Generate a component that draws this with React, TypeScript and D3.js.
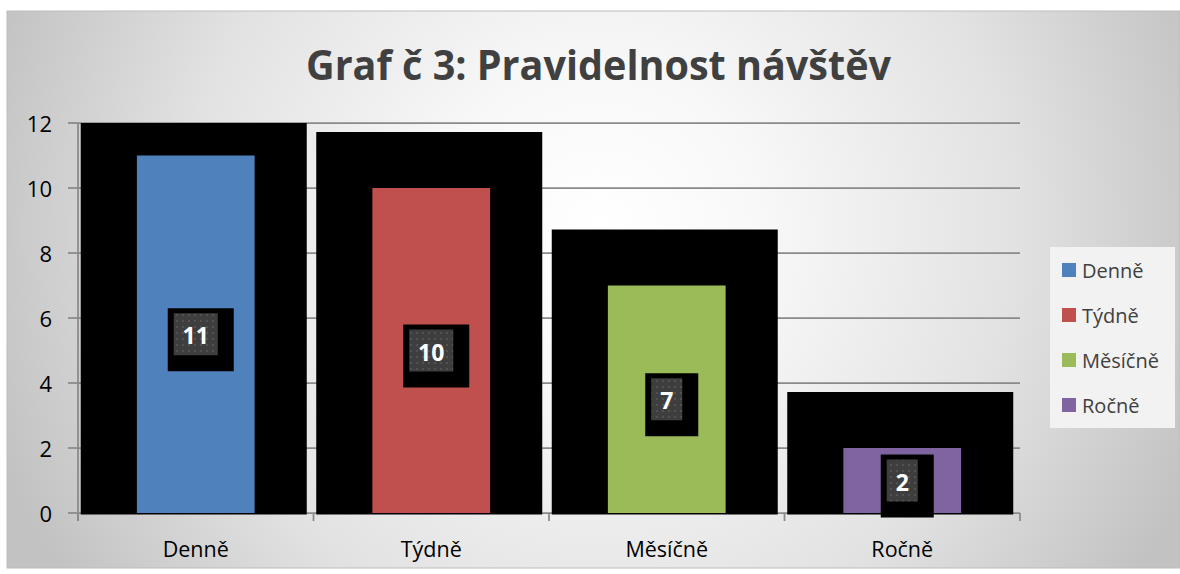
import React from "react";
import * as d3 from "d3";

const categories = ["Denně", "Týdně", "Měsíčně", "Ročně"];
const values = [11, 10, 7, 2];
const colors = ["#4f81bd", "#c0504d", "#9bbb59", "#8064a2"];
const yTicks = [0, 2, 4, 6, 8, 10, 12];
const title = "Graf č 3: Pravidelnost návštěv";

const W = 1180;
const H = 574;
const FONT = "'Open Sans', 'DejaVu Sans', sans-serif";

const App = () => {
   const margin = { top: 123, bottom: 61, left: 78, right: 160 };

   // ---------------------- scale
   const scale = {
      x: d3
         .scaleBand()
         .domain(categories)
         .range([margin.left, W - margin.right])
         .paddingInner(0)
         .paddingOuter(0),
      y: d3
         .scaleLinear()
         .domain([0, 12])
         .range([H - margin.bottom, margin.top])
   };
   const bw = scale.x.bandwidth();
   const barW = bw * 0.5;
   const y0 = scale.y(0);
   const yTop = scale.y(12);
   const xEnd = W - margin.right;

   // black glow around each bar (as in the source picture)
   const glow = 56;

   return (
      <svg width={W} height={H} style={{ display: "block", position: "absolute", left: 0, top: 0 }}>
         <defs>
            <radialGradient id="bg" gradientUnits="userSpaceOnUse" cx={600} cy={230} r={640}>
               <stop offset="0" stopColor="#ffffff" />
               <stop offset="0.25" stopColor="#f8f8f8" />
               <stop offset="0.65" stopColor="#e2e2e2" />
               <stop offset="1" stopColor="#c2c2c2" />
            </radialGradient>
            <pattern id="dots" width="6" height="6" patternUnits="userSpaceOnUse">
               <rect width="6" height="6" fill="#3e3e3e" />
               <circle cx="3" cy="3" r="1.1" fill="#565656" />
            </pattern>
         </defs>

         <rect x={0} y={0} width={W} height={H} fill="#ffffff" />
         <rect x={7} y={11} width={W - 7} height={557} fill="url(#bg)" stroke="#bdbdbd" strokeWidth={1} />

         {/* title */}
         <text
            x={598.5}
            y={80}
            textAnchor="middle"
            fontFamily={FONT}
            fontWeight="bold"
            fontSize={42}
            fill="#404040"
            textLength={585}
            lengthAdjust="spacingAndGlyphs"
         >
            {title}
         </text>

         {/* gridlines */}
         {yTicks.map(t => (
            <line key={"g" + t} x1={margin.left} x2={xEnd} y1={scale.y(t)} y2={scale.y(t)} stroke="#8a8a8a" strokeWidth={1.75} />
         ))}

         {/* y axis */}
         <line x1={margin.left} x2={margin.left} y1={yTop} y2={y0 + 8} stroke="#8a8a8a" strokeWidth={1.75} />
         {yTicks.map(t => (
            <g key={"yt" + t}>
               <line x1={margin.left - 10} x2={margin.left} y1={scale.y(t)} y2={scale.y(t)} stroke="#8a8a8a" strokeWidth={1.75} />
               <text x={52} y={scale.y(t)} dominantBaseline="central" textAnchor="end" fontFamily={FONT} fontSize={22} fill="#000">
                  {t}
               </text>
            </g>
         ))}

         {/* x axis ticks */}
         {[...categories.map(c => scale.x(c)), xEnd].map((x, i) => (
            <line key={"xt" + i} x1={x} x2={x} y1={y0} y2={y0 + 8} stroke="#8a8a8a" strokeWidth={1.75} />
         ))}
         {categories.map(c => (
            <text key={"xl" + c} x={scale.x(c) + bw / 2} y={557} textAnchor="middle" fontFamily={FONT} fontSize={21.5} fill="#000">
               {c}
            </text>
         ))}

         {/* black shadows */}
         {categories.map((c, i) => {
            const cx = scale.x(c) + bw / 2 - 2;
            const top = Math.max(scale.y(values[i]) - glow, yTop);
            return <rect key={"sh" + c} x={cx - 113} y={top} width={226} height={y0 + 1.5 - top} fill="#000" />;
         })}

         {/* bars */}
         {categories.map((c, i) => (
            <rect key={"b" + c} x={scale.x(c) + (bw - barW) / 2} y={scale.y(values[i])} width={barW} height={y0 - scale.y(values[i])} fill={colors[i]} />
         ))}

         {/* data labels */}
         {categories.map((c, i) => {
            const cx = scale.x(c) + bw / 2;
            const cy = scale.y(values[i] / 2);
            const lab = String(values[i]);
            const w = 18 + 13 * lab.length;
            const h = 42;
            const bx = cx - w / 2;
            const by = cy - h / 2;
            return (
               <g key={"l" + c}>
                  <rect x={bx - 6} y={by - 5} width={w + 22} height={h + 21} fill="#000" />
                  <rect x={bx} y={by} width={w} height={h} fill="url(#dots)" />
                  <text x={cx} y={cy + 1} textAnchor="middle" dominantBaseline="central" fontFamily={FONT} fontWeight="bold" fontSize={23} fill="#fff">
                     {lab}
                  </text>
               </g>
            );
         })}

         {/* legend */}
         <rect x={1050} y={247} width={125} height={181} fill="#f2f2f2" />
         {categories.map((c, i) => (
            <g key={"lg" + c} transform={`translate(1062, ${270 + i * 45})`}>
               <rect x={0} y={-7} width={14} height={14} fill={colors[i]} />
               <text x={20} y={0} dominantBaseline="central" fontFamily={FONT} fontSize={20} fill="#404040">
                  {c}
               </text>
            </g>
         ))}
      </svg>
   );
};

export default App;
